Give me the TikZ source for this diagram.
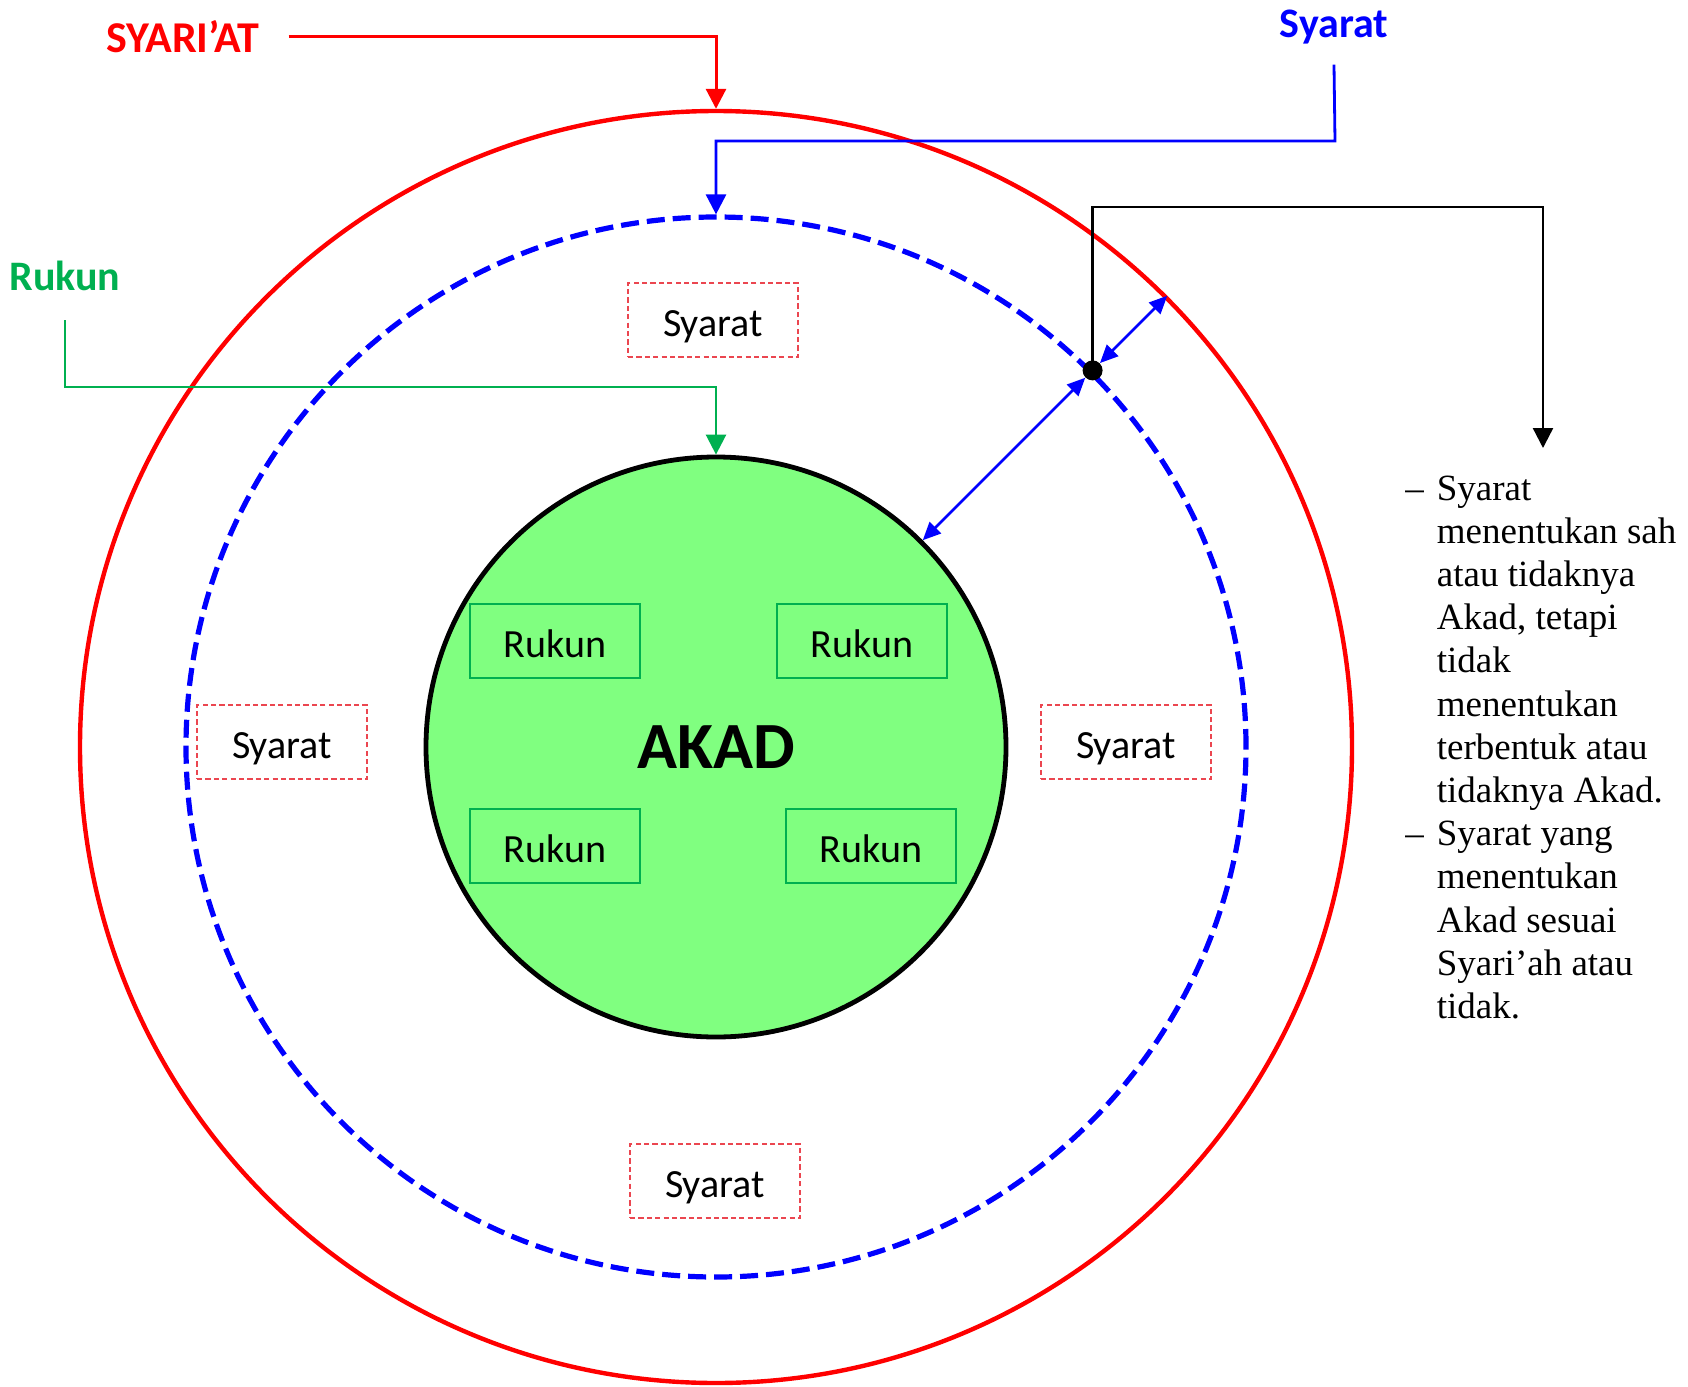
\documentclass[tikz,border=0pt]{standalone}
\usepackage{fontspec}
\setmainfont{Liberation Serif}
\newfontfamily\carlito{Carlito}
\usetikzlibrary{arrows.meta}

\definecolor{syrRed}{RGB}{255,0,0}
\definecolor{syrBlue}{RGB}{0,0,255}
\definecolor{rukGreen}{RGB}{0,176,80}
\definecolor{akadFill}{RGB}{128,255,128}
\definecolor{boxRed}{RGB}{235,70,80}

\begin{document}
\begin{tikzpicture}[x=0.5pt,y=-0.5pt,
  ring/.style={circle, inner sep=0pt},
  innerbox/.style={minimum width=85pt, minimum height=37pt, inner sep=0pt,
    text height=16pt, text depth=0pt,
    font=\carlito\fontsize{20}{24}\selectfont},
  rukunbox/.style={innerbox, draw=rukGreen, line width=0.6pt},
  syaratbox/.style={innerbox, draw=boxRed, line width=0.7pt, dash pattern=on 2.6pt off 1.6pt},
  headlabel/.style={font=\carlito\bfseries\fontsize{21}{25}\selectfont, anchor=base},
  bigtip/.style={-{Triangle[length=10pt,width=10pt]}},
  twoway/.style={{Triangle[length=9pt,width=8pt]}-{Triangle[length=9pt,width=8pt]},
    draw=syrBlue, line width=1.3pt}
]
\useasboundingbox (0,0) rectangle (1688,1387);

% nested circles: syari'at, syarat, akad
\node[ring, draw=syrRed, line width=2.2pt, minimum size=636pt] (outer) at (716,747) {};
\node[ring, draw=syrBlue, line width=2.6pt, dash pattern=on 9pt off 4pt,
      minimum size=530pt] (inner) at (716,747) {};
\node[ring, draw=black, fill=akadFill, line width=2.4pt, minimum size=290pt,
      font=\carlito\bfseries\fontsize{33}{40}\selectfont] (akad) at (716,747) {AKAD};

% rukun inside the akad
\node[rukunbox] (r1) at (555,641) {Rukun};
\node[rukunbox] (r2) at (862,641) {Rukun};
\node[rukunbox] (r3) at (555,846) {Rukun};
\node[rukunbox] (r4) at (871,846) {Rukun};

% syarat in the middle ring
\node[syaratbox] (s1) at (713,320) {Syarat};
\node[syaratbox] (s2) at (282,742) {Syarat};
\node[syaratbox] (s3) at (1126,742) {Syarat};
\node[syaratbox] (s4) at (715,1181) {Syarat};

% marker on the syarat ring
\node[circle, fill=black, inner sep=0pt, minimum size=10pt] (dot) at (inner.45) {};

% outside labels
\node[headlabel, text=syrRed, font=\carlito\bfseries\fontsize{22}{26}\selectfont] (lblSyariat) at (183,52) {SYARI’AT};
\node[headlabel, text=syrBlue] (lblSyarat) at (1334,37) {Syarat};
\node[headlabel, text=rukGreen] (lblRukun) at (65,290) {Rukun};

% label connectors
\coordinate (blueTurn) at (1335,141);
\coordinate (greenTurn) at (65,387);
\coordinate (blackTurn) at (1543,207);
\coordinate (noteTip) at (1543,448);

\draw[syrRed, line width=1.5pt, bigtip] ([xshift=11pt]lblSyariat.east) -| (outer.north);
\draw[syrBlue, line width=1.4pt, bigtip] ([yshift=-7pt]lblSyarat.south) -- (blueTurn) -| (inner.north);
\draw[rukGreen, line width=1.3pt, bigtip] ([yshift=-11.5pt]lblRukun.south) -- (greenTurn) -| (akad.north);
\draw[black, line width=1.2pt, bigtip] (dot.center) |- (blackTurn) -- (noteTip);

% distances between the rings
\draw[twoway] (akad.45) -- (dot);
\draw[twoway] (dot) -- (outer.45);

% explanation
\node[anchor=base west, inner sep=0pt, font=\fontsize{18.5}{21.6}\selectfont] (note) at (1405,500)
{\begin{tabular}[t]{@{}l@{\hspace{6.5pt}}l@{}}
–&Syarat\\
 &menentukan sah\\
 &atau tidaknya\\
 &Akad, tetapi\\
 &tidak\\
 &menentukan\\
 &terbentuk atau\\
 &tidaknya Akad.\\
–&Syarat yang\\
 &menentukan\\
 &Akad sesuai\\
 &Syari’ah atau\\
 &tidak.
\end{tabular}};
\end{tikzpicture}
\end{document}
